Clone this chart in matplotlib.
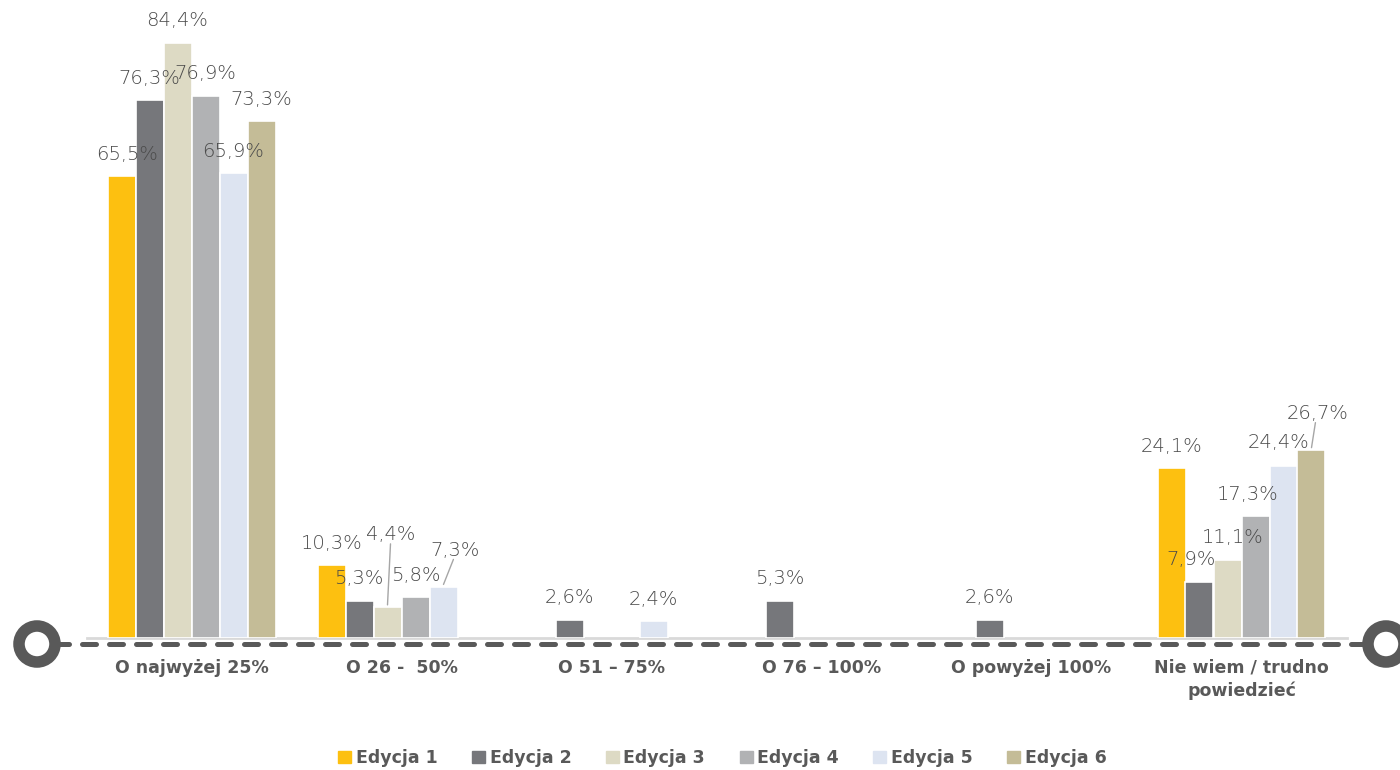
import numpy as np
import matplotlib
matplotlib.use("Agg")
import matplotlib.pyplot as plt
from matplotlib.lines import Line2D
from matplotlib.patches import Circle, Rectangle

# data (None = no bar)
categories = ["O najwyżej 25%", "O 26 -  50%", "O 51 – 75%", "O 76 – 100%",
              "O powyżej 100%", "Nie wiem / trudno\npowiedzieć"]
series = ["Edycja 1", "Edycja 2", "Edycja 3", "Edycja 4", "Edycja 5", "Edycja 6"]
ed1 = [65.5, 10.3, None, None, None, 24.1]
ed2 = [76.3, 5.3, 2.6, 5.3, 2.6, 7.9]
ed3 = [84.4, 4.4, None, None, None, 11.1]
ed4 = [76.9, 5.8, None, None, None, 17.3]
ed5 = [65.9, 7.3, 2.4, None, None, 24.4]
ed6 = [73.3, None, None, None, None, 26.7]
values = [ed1, ed2, ed3, ed4, ed5, ed6]
colors = ["#FDC010", "#76777B", "#DDDAC4", "#B1B2B4", "#DDE4F1", "#C4BC97"]

TXT = "#595959"
FONT = "DejaVu Sans"

# label nudges in pixels (series, category) -> (dx, dy, leader line)
nudge = {(0, 0): (6, 0, False), (4, 0): (0, 0, False),
         (2, 1): (3, 50, True), (4, 1): (12, 14, True),
         (1, 1): (-1, 0, False),
         (1, 5): (-8, 1, False), (2, 5): (5, 0, False),
         (3, 5): (-8, 0, False), (4, 5): (-5, 1, False),
         (5, 5): (6, 14, True)}

fig = plt.figure(figsize=(14, 7.7), dpi=100)
ax = fig.add_axes([86.5 / 1400, (770 - 638) / 770, 1260 / 1400, 634.5 / 770])
ax.set_xlim(-0.5, 5.5)
ax.set_ylim(0, 90)
ax.axis("off")

# light baseline
ax.plot([-0.5, 5.5], [0, 0], color="#D9D9D9", lw=2, zorder=1, clip_on=False)

step = 28 / 210
x = np.arange(len(categories))
for i, (vals, col) in enumerate(zip(values, colors)):
    pos = x + (i - 2.5) * step
    for j, v in enumerate(vals):
        if v is None:
            continue
        ax.bar(pos[j], v, width=step, color=col, edgecolor="white",
               linewidth=1.2, zorder=2)
        dx, dy, lead = nudge.get((i, j), (0, 0, False))
        lab = f"{v:.1f}%".replace(".", ",")
        ax.annotate(lab, (pos[j], v), xytext=(dx * 0.72, (22 + dy) * 0.72),
                    textcoords="offset points", ha="center", va="center",
                    fontsize=14, color="#4A4A4A", family=FONT,
                    fontweight="light", zorder=3)
        if lead:
            ax.annotate("", (pos[j], v + 0.3),
                        xytext=(dx * 0.72 - 1.5 if dx > 5 else dx * 0.72,
                                (22 + dy - 11) * 0.72),
                        textcoords="offset points",
                        arrowprops=dict(arrowstyle="-", color="#A6A6A6", lw=1,
                                        shrinkA=0, shrinkB=0))

# category labels
for j, c in enumerate(categories):
    ax.annotate(c, (x[j], 0), xytext=(0, -21 * 0.72), textcoords="offset points",
                ha="center", va="top", fontsize=12.5, fontweight="bold",
                color=TXT, family=FONT, linespacing=1.3)

# dashed timeline with rings at both ends (figure pixels)
px = fig.dpi_scale_trans
fig.add_artist(Line2D([0.55, 13.65], [1.26, 1.26], transform=px, color="#595959",
                      lw=3.6, linestyle=(0, (2.8, 2.6)), solid_capstyle="round",
                      dash_capstyle="round"))
for cx in (0.37, 13.86):
    fig.add_artist(Circle((cx, 1.26), 0.18, transform=px, fill=False,
                          edgecolor="#595959", lw=8.3))

# legend
handles = [Rectangle((0, 0), 1, 1, color=c) for c in colors]
leg = fig.legend(handles, series, loc="center", bbox_to_anchor=(0.516, 0.0155),
                 ncol=6, frameon=False, handlelength=0.75, handleheight=0.75,
                 handletextpad=0.25, columnspacing=2.0,
                 prop=dict(family=FONT, weight="bold", size=12.5))
for t in leg.get_texts():
    t.set_color(TXT)

fig.savefig("out.png", dpi=100)
